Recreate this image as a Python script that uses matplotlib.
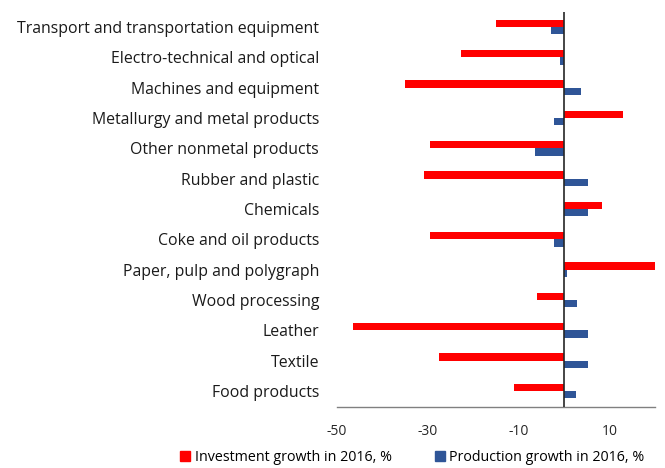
import matplotlib.pyplot as plt
from matplotlib.patches import Patch

categories = [
    "Transport and transportation equipment",
    "Electro-technical and optical",
    "Machines and equipment",
    "Metallurgy and metal products",
    "Other nonmetal products",
    "Rubber and plastic",
    "Chemicals",
    "Coke and oil products",
    "Paper, pulp and polygraph",
    "Wood processing",
    "Leather",
    "Textile",
    "Food products",
]
investment = [-15.0, -22.7, -35.0, 13.0, -29.5, -30.8, 8.3, -29.5, 20.1, -5.9, -46.5, -27.6, -11.1]
production = [-2.8, -0.9, 3.8, -2.2, -6.4, 5.3, 5.3, -2.2, 0.7, 2.9, 5.2, 5.3, 2.6]
xticks = [-50, -30, -10, 10]

RED = "#FF0000"
BLUE = "#2F5597"

fig = plt.figure(figsize=(6.65, 4.68), dpi=100)
ax = fig.add_axes([0.507, 0.130, 0.478, 0.845])

n = len(categories)
pos = list(range(n))
h = 0.24
ax.barh([p - h / 2 for p in pos], investment, height=h, color=RED, zorder=2)
ax.barh([p + h / 2 for p in pos], production, height=h, color=BLUE, zorder=2)

ax.set_ylim(n - 0.47, -0.5)
ax.set_xlim(-50, 20)
ax.set_yticks(pos)
ax.set_yticklabels(categories, fontsize=11.4, color="#1a1a1a", family="Open Sans")
ax.set_xticks(xticks)
ax.set_xticklabels([str(t) for t in xticks], fontsize=10, color="#262626", family="Open Sans")
ax.tick_params(axis="both", length=0)
ax.tick_params(axis="y", pad=13)
ax.tick_params(axis="x", pad=12)

for s in ["top", "right", "left"]:
    ax.spines[s].set_visible(False)
ax.spines["bottom"].set_color("#808080")
ax.spines["bottom"].set_linewidth(1.0)
ax.axvline(0, color="#262626", lw=1.2, zorder=3)

handles = [Patch(color=RED, label="Investment growth in 2016, %"),
           Patch(color=BLUE, label="Production growth in 2016, %")]
fig.legend(handles=handles, loc="center", bbox_to_anchor=(0.62, 0.022), ncol=2,
           frameon=False, prop={"family": "Open Sans", "size": 10.3},
           handlelength=0.7, handleheight=0.7, handletextpad=0.3, columnspacing=3.0)

fig.savefig("out.png", dpi=100, facecolor="white")
